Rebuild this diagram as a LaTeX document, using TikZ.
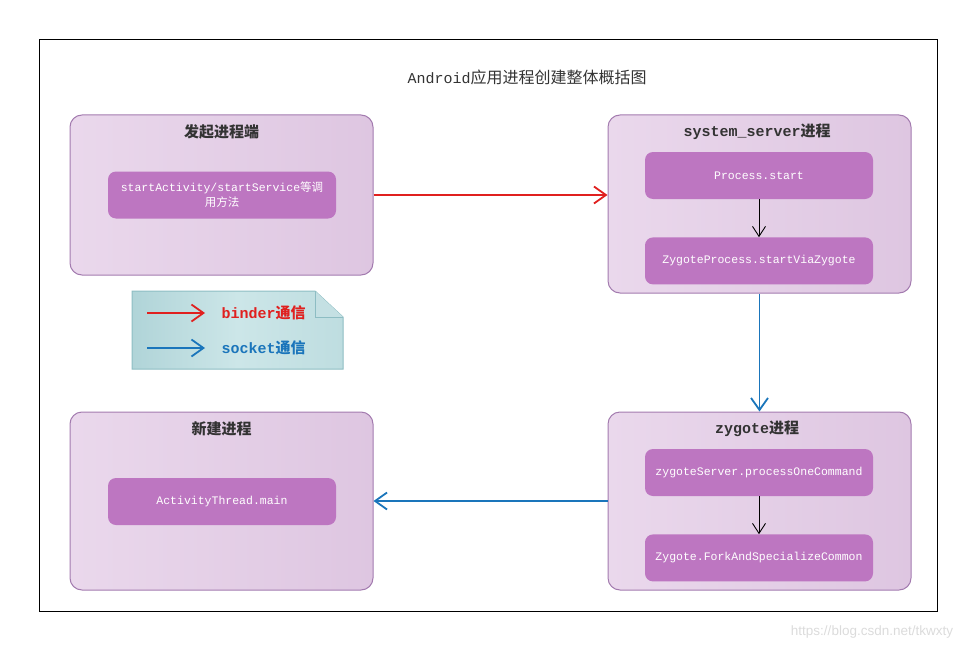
\documentclass[tikz,border=0pt]{standalone}
\usepackage{fontspec}
\usepackage{xcolor}
\setmainfont{Liberation Mono}
\newfontfamily\cjk{Noto Sans CJK SC}
\newfontfamily\urlfont{Liberation Sans}
\usetikzlibrary{arrows.meta,positioning}
\definecolor{procline}{HTML}{A37BAF}
\definecolor{procleft}{HTML}{EAD8EC}
\definecolor{procright}{HTML}{DEC6E1}
\definecolor{callfill}{HTML}{BD76C1}
\definecolor{headgray}{HTML}{333333}
\definecolor{binderred}{HTML}{E0201F}
\definecolor{socketblue}{HTML}{1A75BB}
\definecolor{noteleft}{HTML}{B0D4D8}
\definecolor{notemid}{HTML}{CCE6E8}
\definecolor{noteright}{HTML}{BEDDE0}
\definecolor{noteline}{HTML}{8DBDC3}
\definecolor{notefold}{HTML}{C4E0E3}

\begin{document}
\begin{tikzpicture}[
    x=1pt, y=-1pt,
    proc/.style={draw=procline, line width=1pt, rounded corners=12pt, left color=procleft, right color=procright, minimum width=303pt, minimum height=#1},
    callbox/.style={fill=callfill, text=white, rounded corners=8pt, minimum width=228pt, minimum height=47pt, align=center, font=\fontsize{11.5}{15}\selectfont},
    headtext/.style={text=headgray, font=\fontsize{15}{18}\selectfont\bfseries},
    binder/.style={draw=binderred, line width=1.8pt, -{Straight Barb[length=12pt,width=17pt]}},
    socket/.style={draw=socketblue, line width=1.8pt, -{Straight Barb[length=12pt,width=17pt]}},
    inner/.style={draw=black, line width=0.9pt, -{Straight Barb[length=10pt,width=13pt]}}
]
\useasboundingbox (0,0) rectangle (976,650);
\draw[line width=1pt] (39,40) rectangle (937,611);
\node[text=headgray, font=\fontsize{15}{18}\selectfont] (title) at (527,77) {Android{\cjk\fontsize{16}{18}\selectfont 应用进程创建整体概括图}};

% process boxes
\node[proc=160pt] (caller) at (221.5,195) {};
\node[proc=178pt] (sysserver) at (759.5,204) {};
\node[proc=178pt] (zygote) at (759.5,501) {};
\node[proc=178pt] (newproc) at (221.5,501) {};

\node[headtext] (callerhead) at (221.5,132) {{\cjk 发起进程端}};
\node[headtext] (sysserverhead) at (757,132) {system\_server{\cjk 进程}};
\node[headtext] (zygotehead) at (757,429) {zygote{\cjk 进程}};
\node[headtext] (newprochead) at (221.5,429) {{\cjk 新建进程}};

% calls inside
\node[callbox] (startcall) at (222,195) {startActivity/startService{\cjk 等调}\\{\cjk 用方法}};
\node[callbox] (procstart) at (759,175.5) {Process.start};
\node[callbox, below=38pt of procstart] (startvia) {ZygoteProcess.startViaZygote};
\node[callbox] (processone) at (759,472.5) {zygoteServer.processOneCommand};
\node[callbox, below=38pt of processone] (forkspec) {Zygote.ForkAndSpecializeCommon};
\node[callbox] (actmain) at (222,501.5) {ActivityThread.main};

\draw[inner] (procstart) -- (startvia);
\draw[inner] (processone) -- (forkspec);

% communication
\draw[binder] (caller.east) -- (caller.east -| sysserver.west);
\draw[socket] (sysserver.south) -- (zygote.north);
\draw[socket] (zygote.west) -- (newproc.east);

% legend
\path[draw=noteline, line width=1pt, left color=noteleft, right color=noteright, middle color=notemid]
    (132,291) -- (315,291) -- (343,317) -- (343,369) -- (132,369) -- cycle;
\draw[noteline, line width=1pt, fill=notefold] (315,291) -- (315,317) -- (343,317);
\node[anchor=west, text=binderred, font=\fontsize{15}{18}\selectfont\bfseries] (binderlabel) at (218,313) {binder{\cjk 通信}};
\node[anchor=west, text=socketblue, font=\fontsize{15}{18}\selectfont\bfseries] (socketlabel) at (218,348) {socket{\cjk 通信}};
\coordinate (bindertail) at (147,313);
\coordinate (sockettail) at (147,348);
\draw[binder] (bindertail) -- ([xshift=-13pt]binderlabel.west);
\draw[socket] (sockettail) -- ([xshift=-13pt]socketlabel.west);

\node[text=gray!28, font=\urlfont\fontsize{13.5}{16}\selectfont] (watermark) at (872,632) {https://blog.csdn.net/tkwxty};
\end{tikzpicture}
\end{document}
